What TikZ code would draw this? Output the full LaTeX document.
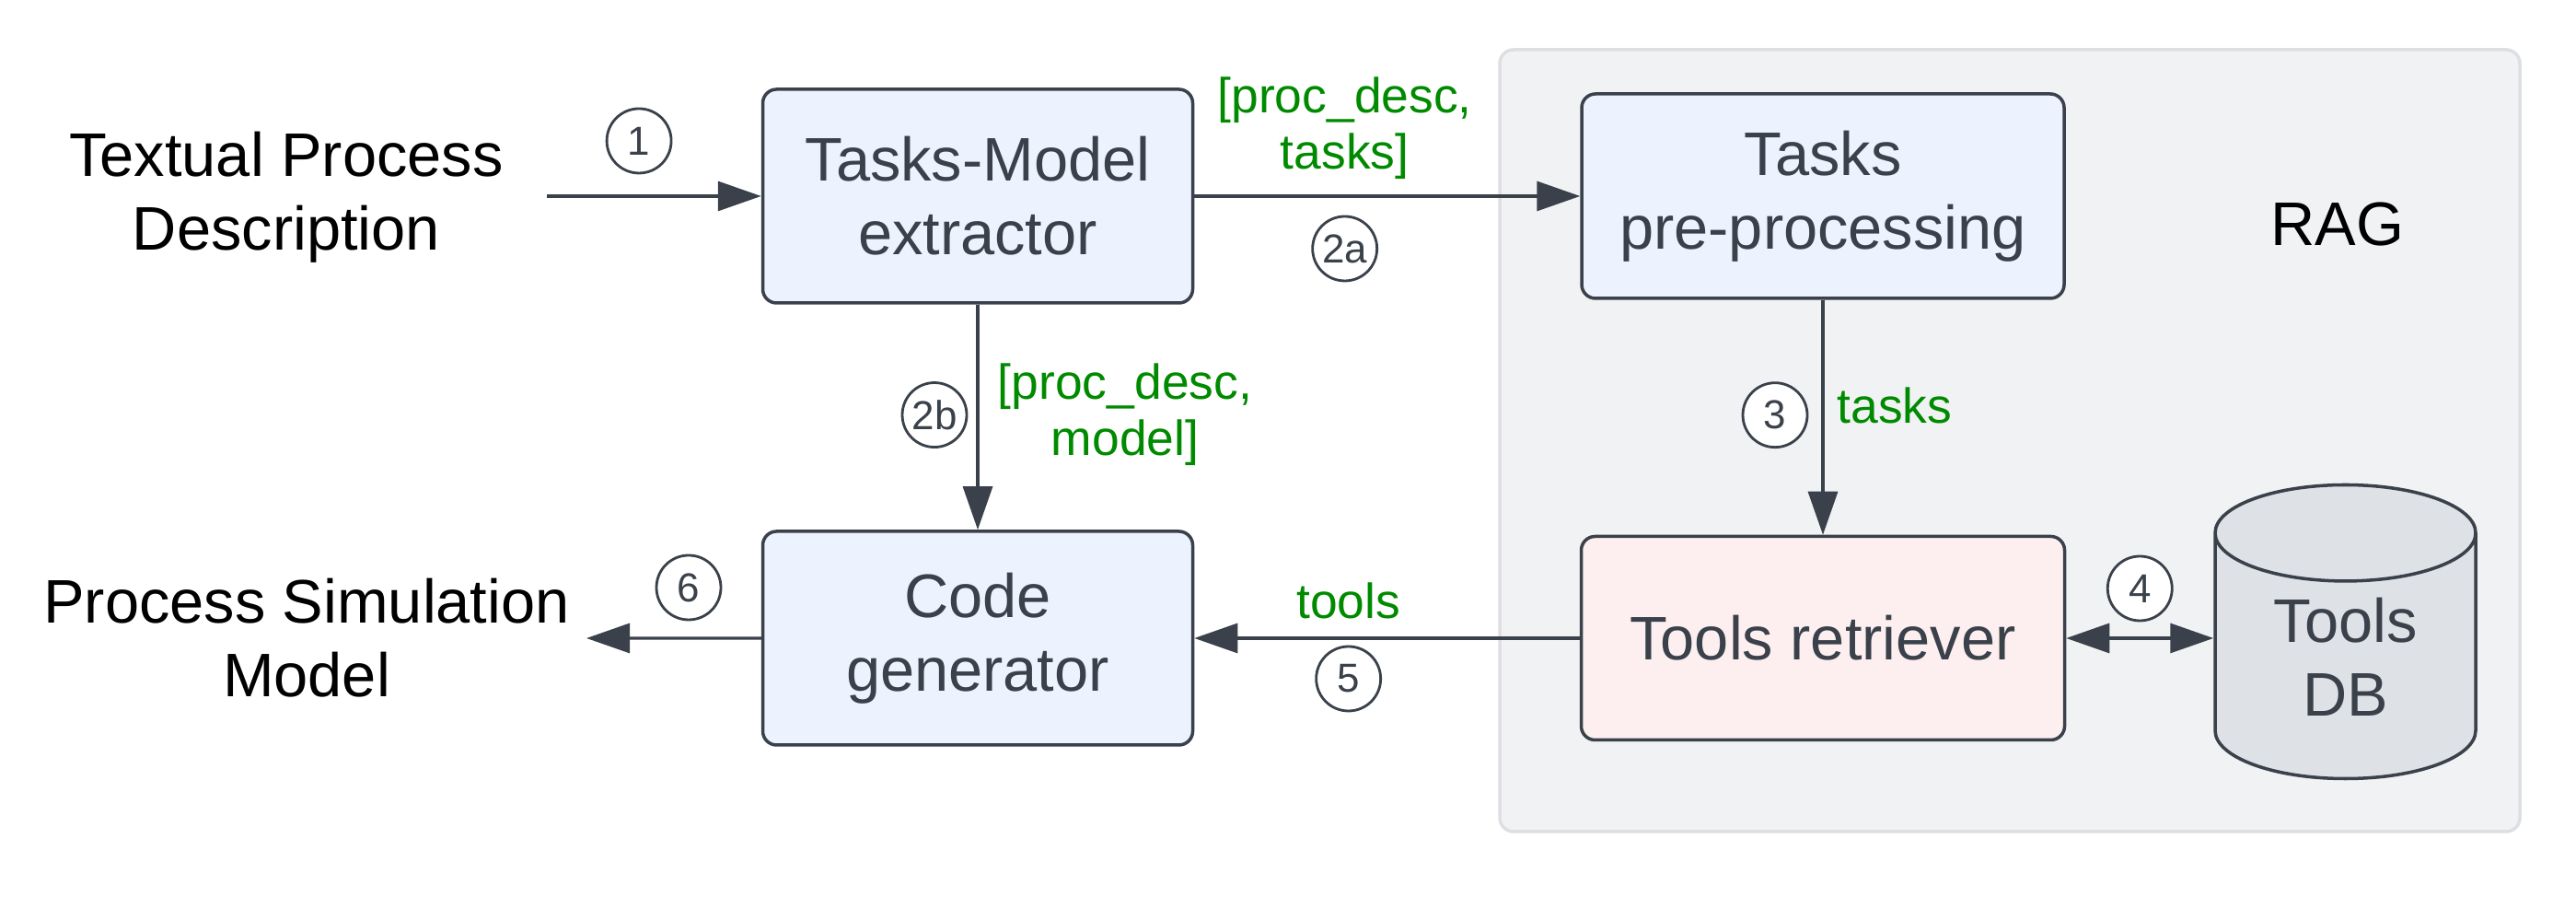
\documentclass[tikz,border=0pt]{standalone}
\usepackage{fontspec}
\setmainfont{Liberation Sans}
\setsansfont{Liberation Sans}
\usetikzlibrary{
  arrows.meta,
  positioning,
  shapes.geometric
}

\definecolor{boxblue}{HTML}{EDF3FE}
\definecolor{boxpink}{HTML}{FDEFEF}
\definecolor{dbgray}{HTML}{DEE1E5}
\definecolor{ragfill}{HTML}{F1F2F4}
\definecolor{ragline}{HTML}{DDDFE2}
\definecolor{darkline}{HTML}{3A414A}
\definecolor{labelgreen}{HTML}{008A00}

\begin{document}
\begin{tikzpicture}[
            node distance=4.8cm,
            font=\sffamily,
            process/.style={rectangle, rounded corners=0.15cm, minimum width=4.67cm, minimum height=2.32cm, inner sep=0pt, align=center, draw=darkline, line width=1pt, fill=boxblue, text=darkline, font=\fontsize{19}{22.8}\selectfont\sffamily},
            retrieve/.style={process, fill=boxpink, minimum width=5.25cm, minimum height=2.21cm},
            database/.style={cylinder, shape border rotate=90, aspect=0.67, minimum width=2.83cm, minimum height=3.19cm, inner sep=0pt, align=center, draw=darkline, line width=1pt, fill=dbgray, text=darkline, font=\fontsize{19}{22.8}\selectfont\sffamily},
            plain/.style={align=center, inner sep=0pt, text=black, font=\fontsize{19}{22.8}\selectfont\sffamily},
            lbl/.style={align=center, inner sep=0pt, text=labelgreen, font=\fontsize{15.2}{17.4}\selectfont\sffamily},
            numcirc/.style={circle, minimum size=0.7cm, inner sep=0pt, draw=darkline, line width=0.8pt, fill=white, text=darkline, font=\fontsize{12.5}{14}\selectfont\sffamily},
            arrow/.style={line width=0.9pt, draw=darkline, -{Triangle[length=0.47cm,width=0.32cm]}},
            arrowboth/.style={arrow, {Triangle[length=0.47cm,width=0.32cm]}-{Triangle[length=0.47cm,width=0.32cm]}}
        ]
        \useasboundingbox (0,0) rectangle (27.98,9.74);

        % RAG area
        \draw [fill=ragfill, draw=ragline, line width=1pt, rounded corners=0.15cm] (16.29,0.71) rectangle (27.37,9.20);
        \node (rag) [plain] at (25.39,7.30) {RAG};

        % Nodi
        \node (extractor) [process] at (10.62,7.61) {Tasks-Model\\extractor};
        \node (prep) [process, right of=extractor, xshift=4.38cm, minimum width=5.24cm, minimum height=2.22cm] {Tasks\\pre-processing};
        \node (codegen) [process, below of=extractor] {Code\\generator};
        \node (retriever) [retrieve, below of=prep] {Tools retriever};
        \node (db) [database, right of=retriever, xshift=0.875cm, yshift=-0.2cm] {Tools\\DB};

        \node (textual) [plain] at (3.11,7.60) {Textual Process\\Description};
        \node (psm) [plain] at (3.33,2.81) {Process Simulation\\Model};
        \coordinate (in) at (5.94,7.61);
        \coordinate (out) at (6.37,2.81);

        % Collegamenti
        \draw [arrow] (in) -- node[numcirc, pos=0.43, yshift=0.6cm] {1} (extractor);

        \draw [arrow] (extractor) -- node[lbl, pos=0.39, yshift=0.74cm] {[proc\_desc,\\tasks]}
            node[numcirc, pos=0.39, yshift=-0.57cm] {2a} (prep);
        \draw [arrow] (extractor) -- node[numcirc, pos=0.49, xshift=-0.47cm] {2b}
            node[lbl, pos=0.49, xshift=1.6cm] {[proc\_desc,\\model]} (codegen);

        \draw [arrow] (prep) -- node[numcirc, pos=0.49, xshift=-0.52cm] {3}
            node[lbl, pos=0.45, xshift=0.78cm] {tasks} (retriever);
        \draw [arrowboth] (retriever.east) -- node[numcirc, yshift=0.54cm] {4} (retriever.east -| db.west);
        \draw [arrow] (retriever) -- node[lbl, pos=0.6, yshift=0.41cm] {tools}
            node[numcirc, pos=0.6, yshift=-0.44cm] {5} (codegen);
        \draw [arrow] (codegen) -- node[numcirc, pos=0.415, yshift=0.55cm] {6} (out);

    \end{tikzpicture}
\end{document}
